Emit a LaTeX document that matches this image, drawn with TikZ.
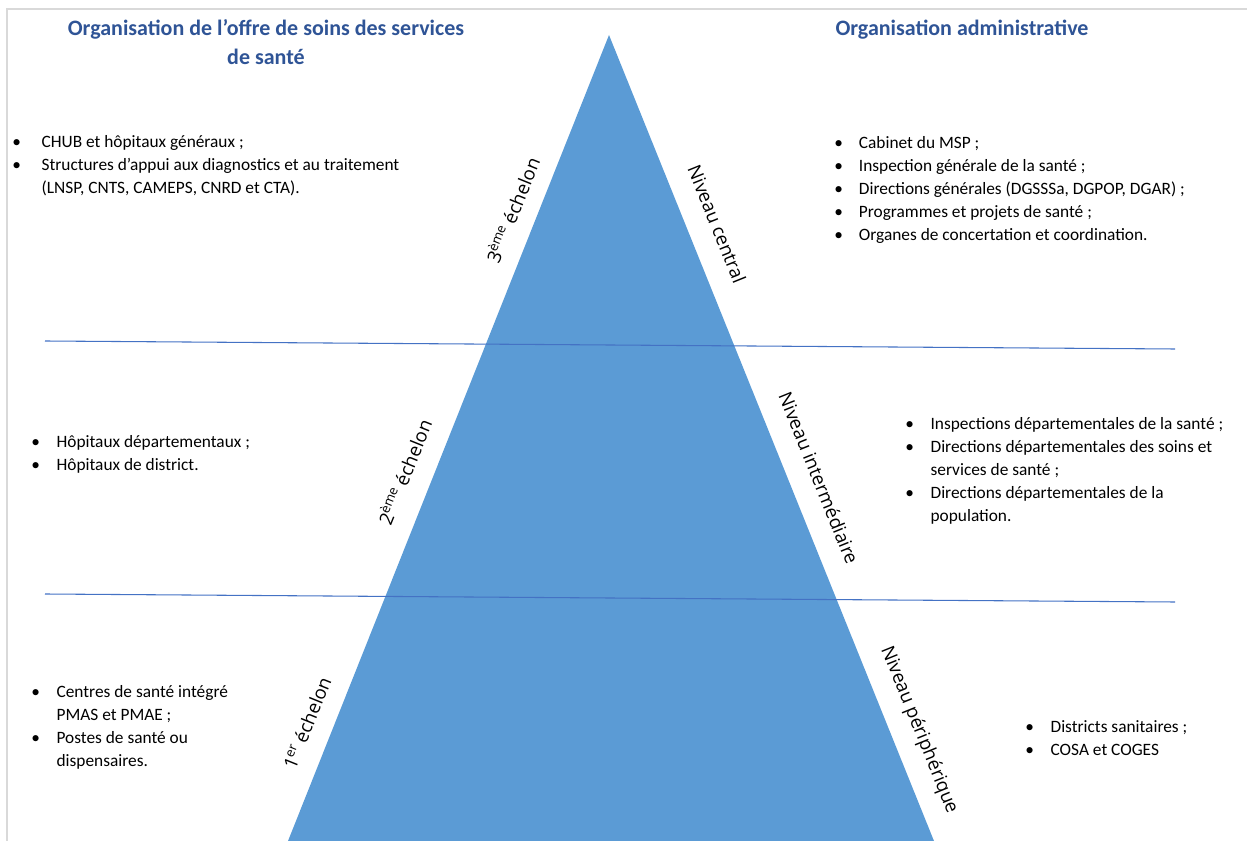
\documentclass[tikz,border=0pt]{standalone}
\usepackage{fontspec}
\setmainfont{Carlito}
\newfontfamily\labfont{Open Sans}
\definecolor{tri}{HTML}{5B9BD5}
\definecolor{head}{HTML}{2F5496}
\definecolor{hline}{HTML}{4472C4}
\definecolor{framegray}{HTML}{D9D9D9}
\begin{document}
\begin{tikzpicture}[x=0.75pt,y=-0.75pt,
  body/.style={font=\fontsize{13}{17.25}\selectfont, inner sep=0pt, anchor=base west},
  heading/.style={font=\fontsize{16.5}{21.75}\selectfont\bfseries, text=head, inner sep=0pt, anchor=base},
  lab/.style={font=\labfont\fontsize{14}{16}\selectfont, inner sep=0pt, anchor=center},
  sep/.style={draw=hline, line width=0.8pt},
  frameline/.style={draw=framegray, line width=0.9pt}]
\useasboundingbox (0,0) rectangle (1247,841);
% frame
\draw[frameline] (7,841) -- (7,9) -- (1247,9);
% pyramid
\coordinate (apex) at (609,35);
\coordinate (bl) at (288,841);
\coordinate (br) at (934,841);
\fill[tri] (apex) -- (bl) -- (br) -- cycle;
% separators
\coordinate (s1a) at (45,341);
\coordinate (s1b) at (1175,349);
\coordinate (s2a) at (45,594);
\coordinate (s2b) at (1175,602);
\draw[sep] (s1a) -- (s1b);
\draw[sep] (s2a) -- (s2b);
% headings
\node[heading] (hleft) at (266,36) {\begin{tabular}[t]{@{}c@{}}Organisation de l’offre de soins des services\\ de santé\end{tabular}};
\node[heading] (hright) at (962,36) {Organisation administrative};
% left lists
\node[body] (l3) at (12,148) {\begin{tabular}[t]{@{}p{22pt}@{}l@{}}
\textbullet & CHUB et hôpitaux généraux ;\\
\textbullet & Structures d’appui aux diagnostics et au traitement\\
 & (LNSP, CNTS, CAMEPS, CNRD et CTA).\end{tabular}};
\node[body] (l2) at (31,448) {\begin{tabular}[t]{@{}p{19pt}@{}l@{}}
\textbullet & Hôpitaux départementaux ;\\
\textbullet & Hôpitaux de district.\end{tabular}};
\node[body] (l1) at (31,697) {\begin{tabular}[t]{@{}p{19pt}@{}l@{}}
\textbullet & Centres de santé intégré\\
 & PMAS et PMAE ;\\
\textbullet & Postes de santé ou\\
 & dispensaires.\end{tabular}};
% right lists
\node[body] (r3) at (834,149) {\begin{tabular}[t]{@{}p{18.5pt}@{}l@{}}
\textbullet & Cabinet du MSP ;\\
\textbullet & Inspection générale de la santé ;\\
\textbullet & Directions générales (DGSSSa, DGPOP, DGAR) ;\\
\textbullet & Programmes et projets de santé ;\\
\textbullet & Organes de concertation et coordination.\end{tabular}};
\node[body] (r2) at (905,430) {\begin{tabular}[t]{@{}p{19pt}@{}l@{}}
\textbullet & Inspections départementales de la santé ;\\
\textbullet & Directions départementales des soins et\\
 & services de santé ;\\
\textbullet & Directions départementales de la\\
 & population.\end{tabular}};
\node[body] (r1) at (1025,732) {\begin{tabular}[t]{@{}p{19pt}@{}l@{}}
\textbullet & Districts sanitaires ;\\
\textbullet & COSA et COGES\end{tabular}};
% rotated labels
\node[lab, rotate=68] (e3) at (512,210) {3\textsuperscript{ème} échelon};
\node[lab, rotate=68] (e2) at (404,472) {2\textsuperscript{ème} échelon};
\node[lab, rotate=68] (e1) at (307,723) {1\textsuperscript{er} échelon};
\node[lab, rotate=-68] (n3) at (717,224) {Niveau central};
\node[lab, rotate=-68] (n2) at (819,478) {Niveau intermédiaire};
\node[lab, rotate=-68] (n1) at (919,730) {Niveau périphérique};
\end{tikzpicture}
\end{document}
